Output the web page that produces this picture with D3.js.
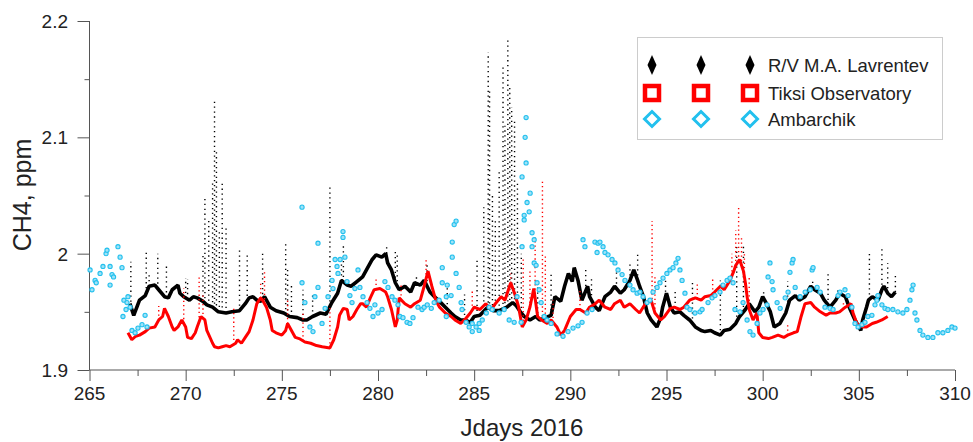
<!DOCTYPE html>
<html><head><meta charset="utf-8">
<script src="https://cdn.jsdelivr.net/npm/d3@7"></script>
<style>body{margin:0;background:#fff}svg text{font-family:"Liberation Sans",Arial,sans-serif;fill:#222}</style>
</head><body><svg id="c" width="973" height="442"></svg>
<script>
const xTicks=[265,270,275,280,285,290,295,300,305,310];
const yTicks=[1.9,2.0,2.1,2.2];
const seriesNames=["R/V M.A. Lavrentev","Tiksi Observatory","Ambarchik"];
// R/V M.A. Lavrentev: running level [day, ppm]
const rvLevel=[[267.1,1.957],[267.3,1.947],[267.6,1.96],[267.9,1.964],[268.1,1.972],[268.4,1.973],[268.6,1.969],[268.9,1.963],[269.1,1.962],[269.3,1.969],[269.6,1.973],[269.7,1.966],[269.9,1.963],[270.2,1.96],[270.4,1.963],[270.6,1.962],[270.9,1.959],[271.1,1.956],[271.4,1.954],[271.7,1.95],[272.1,1.949],[272.4,1.95],[272.8,1.951],[273.1,1.957],[273.3,1.962],[273.5,1.963],[273.7,1.96],[273.9,1.959],[274.1,1.963],[274.4,1.954],[274.7,1.951],[275.1,1.949],[275.4,1.946],[275.8,1.945],[276.1,1.943],[276.3,1.943],[276.6,1.946],[277.0,1.949],[277.3,1.948],[277.6,1.958],[277.9,1.966],[278.1,1.977],[278.4,1.973],[278.6,1.972],[278.9,1.976],[279.2,1.98],[279.4,1.986],[279.7,1.995],[279.9,1.999],[280.2,1.997],[280.4,2.0],[280.5,1.992],[280.7,1.986],[280.9,1.975],[281.1,1.969],[281.4,1.972],[281.7,1.967],[281.9,1.975],[282.2,1.973],[282.4,1.977],[282.7,1.967],[283.0,1.962],[283.2,1.959],[283.5,1.954],[283.8,1.949],[284.0,1.946],[284.3,1.943],[284.5,1.943],[284.8,1.941],[285.0,1.946],[285.3,1.947],[285.7,1.954],[286.0,1.951],[286.3,1.951],[286.7,1.954],[287.0,1.958],[287.2,1.955],[287.4,1.95],[287.6,1.946],[287.9,1.943],[288.2,1.946],[288.4,1.943],[288.7,1.945],[289.0,1.947],[289.2,1.963],[289.5,1.959],[289.7,1.972],[289.9,1.983],[290.1,1.976],[290.2,1.988],[290.4,1.977],[290.6,1.96],[290.9,1.972],[291.0,1.963],[291.3,1.954],[291.5,1.951],[291.8,1.963],[292.1,1.967],[292.3,1.972],[292.6,1.966],[292.8,1.969],[293.1,1.977],[293.3,1.986],[293.5,1.977],[293.6,1.972],[293.8,1.963],[294.0,1.949],[294.2,1.943],[294.5,1.937],[294.7,1.945],[294.8,1.954],[295.0,1.966],[295.2,1.954],[295.4,1.949],[295.7,1.95],[295.9,1.947],[296.2,1.943],[296.5,1.937],[296.8,1.934],[297.0,1.933],[297.3,1.934],[297.5,1.932],[297.8,1.93],[298.0,1.934],[298.3,1.935],[298.6,1.94],[298.8,1.946],[299.1,1.952],[299.3,1.957],[299.6,1.95],[299.8,1.954],[300.0,1.963],[300.2,1.957],[300.4,1.95],[300.6,1.937],[300.9,1.94],[301.2,1.949],[301.4,1.96],[301.7,1.964],[301.9,1.96],[302.2,1.963],[302.5,1.972],[302.7,1.969],[303.0,1.966],[303.2,1.96],[303.5,1.954],[303.8,1.96],[304.0,1.966],[304.3,1.963],[304.5,1.954],[304.8,1.943],[305.1,1.934],[305.2,1.943],[305.4,1.954],[305.5,1.96],[305.7,1.963],[306.0,1.96],[306.2,1.969],[306.3,1.972],[306.5,1.966],[306.7,1.963],[306.9,1.967]];
// R/V peaks [day, max ppm]
const rvPeaks=[[267.15,1.993],[267.95,2.001],[268.1,1.982],[268.55,2.0],[269.0,1.992],[269.55,1.976],[270.0,1.979],[270.1,1.978],[270.9,2.0],[271.0,2.049],[271.2,2.03],[271.4,2.063],[271.5,2.133],[271.6,2.09],[271.75,2.02],[271.9,2.06],[272.1,2.023],[272.8,2.005],[273.2,2.001],[274.0,2.003],[275.2,2.009],[275.3,1.989],[275.5,1.975],[276.1,1.969],[276.6,1.965],[277.5,2.058],[278.1,1.995],[278.2,2.007],[280.45,2.006],[280.9,2.003],[281.0,2.0],[282.0,1.982],[282.55,1.993],[283.6,1.975],[284.5,1.965],[285.15,1.997],[285.5,2.04],[285.73,2.173],[285.8,2.142],[285.95,2.05],[286.1,2.03],[286.3,2.07],[286.5,2.16],[286.6,2.11],[286.75,2.186],[286.85,2.143],[286.95,2.126],[287.1,2.115],[287.25,2.06],[287.45,2.0],[288.3,1.975],[289.0,1.982],[290.25,1.989],[290.8,1.989],[291.1,1.98],[292.4,1.985],[293.1,1.992],[293.5,1.999],[294.95,1.98],[295.45,1.97],[296.35,1.976],[297.8,1.977],[298.65,2.009],[299.0,2.006],[300.05,1.969],[301.3,1.976],[302.6,1.976],[303.4,1.984],[303.9,1.97],[305.55,2.003],[306.2,2.005],[306.5,1.992],[306.9,1.983]];
// Tiksi Observatory level [day, ppm]
const tiksiLevel=[[267.0,1.932],[267.2,1.926],[267.4,1.929],[267.6,1.93],[267.9,1.933],[268.1,1.936],[268.4,1.937],[268.6,1.943],[268.8,1.946],[268.9,1.953],[269.1,1.946],[269.3,1.937],[269.4,1.934],[269.6,1.937],[269.8,1.943],[270.0,1.937],[270.1,1.928],[270.3,1.927],[270.5,1.932],[270.6,1.937],[270.8,1.946],[271.0,1.943],[271.1,1.934],[271.4,1.923],[271.5,1.92],[271.7,1.919],[271.9,1.92],[272.1,1.921],[272.3,1.92],[272.6,1.923],[272.7,1.926],[272.9,1.923],[273.1,1.928],[273.3,1.933],[273.5,1.943],[273.7,1.957],[273.9,1.962],[274.0,1.96],[274.2,1.954],[274.4,1.943],[274.5,1.934],[274.7,1.932],[275.0,1.93],[275.2,1.934],[275.3,1.94],[275.5,1.934],[275.7,1.928],[275.9,1.927],[276.2,1.924],[276.5,1.923],[276.8,1.921],[277.1,1.92],[277.5,1.919],[277.7,1.926],[277.9,1.937],[278.0,1.947],[278.2,1.953],[278.4,1.952],[278.5,1.943],[278.7,1.946],[278.9,1.952],[279.1,1.957],[279.2,1.957],[279.4,1.954],[279.6,1.962],[279.8,1.969],[280.1,1.97],[280.4,1.967],[280.5,1.963],[280.7,1.952],[280.9,1.937],[281.0,1.943],[281.1,1.962],[281.4,1.957],[281.7,1.954],[281.9,1.957],[282.2,1.96],[282.4,1.972],[282.6,1.985],[282.8,1.972],[283.0,1.96],[283.2,1.954],[283.5,1.949],[283.8,1.946],[284.0,1.943],[284.3,1.94],[284.5,1.943],[284.8,1.949],[285.0,1.954],[285.3,1.952],[285.6,1.957],[285.9,1.952],[286.1,1.957],[286.4,1.963],[286.6,1.96],[286.9,1.975],[287.1,1.966],[287.3,1.955],[287.5,1.937],[287.7,1.943],[287.9,1.954],[288.1,1.97],[288.3,1.946],[288.5,1.943],[288.8,1.94],[289.0,1.943],[289.3,1.937],[289.5,1.93],[289.7,1.934],[290.0,1.946],[290.3,1.952],[290.5,1.952],[290.8,1.949],[291.0,1.954],[291.3,1.957],[291.5,1.96],[291.8,1.954],[292.1,1.952],[292.3,1.957],[292.6,1.96],[292.8,1.954],[293.1,1.957],[293.4,1.952],[293.6,1.949],[293.9,1.957],[294.2,1.96],[294.4,1.949],[294.7,1.943],[294.9,1.946],[295.2,1.953],[295.4,1.954],[295.7,1.952],[295.9,1.954],[296.2,1.96],[296.5,1.962],[296.8,1.96],[297.0,1.963],[297.3,1.964],[297.5,1.967],[297.8,1.972],[298.0,1.969],[298.3,1.977],[298.5,1.985],[298.6,1.99],[298.8,1.995],[298.9,1.99],[299.0,1.985],[299.1,1.975],[299.2,1.962],[299.3,1.952],[299.5,1.943],[299.7,1.949],[299.8,1.932],[300.0,1.928],[300.3,1.927],[300.5,1.928],[300.8,1.93],[301.1,1.928],[301.3,1.93],[301.6,1.932],[301.8,1.933],[302.0,1.946],[302.2,1.957],[302.5,1.958],[302.7,1.954],[303.0,1.95],[303.3,1.947],[303.5,1.949],[303.8,1.949],[304.0,1.95],[304.3,1.954],[304.6,1.957],[304.7,1.949],[304.9,1.94],[305.2,1.937],[305.4,1.937],[305.7,1.94],[305.9,1.941],[306.2,1.943],[306.5,1.946]];
// Tiksi peaks [day, max ppm]
const tiksiPeaks=[[268.6,1.955],[269.9,1.97],[270.7,1.98],[270.9,1.965],[272.5,1.955],[273.9,1.975],[274.1,1.986],[275.3,1.962],[276.1,1.95],[277.5,1.955],[279.9,1.98],[281.2,1.975],[282.5,1.995],[284.9,1.97],[286.9,1.983],[287.55,1.995],[287.9,1.985],[288.17,2.014],[288.55,2.063],[288.7,2.0],[289.1,1.96],[290.5,1.97],[294.25,2.028],[294.4,1.98],[296.6,1.975],[297.4,1.98],[298.4,2.0],[298.6,2.02],[298.75,2.04],[298.9,2.015],[299.05,2.0],[299.3,1.98],[301.3,1.94],[304.2,1.96]];
// Ambarchik samples [day, ppm]
const ambarchik=[[265.03,1.986],[265.13,1.969],[265.29,1.977],[265.35,1.975],[265.55,1.983],[265.7,1.989],[265.86,2.0],[265.91,2.003],[266.07,1.989],[266.07,1.973],[266.17,1.982],[266.25,1.98],[266.48,2.006],[266.59,1.997],[266.69,1.988],[266.74,1.946],[266.79,1.96],[266.9,1.952],[266.95,1.958],[267.0,1.963],[267.11,1.954],[267.21,1.934],[267.37,1.932],[267.52,1.936],[267.73,1.939],[267.89,1.947],[267.99,1.937],
[276.05,2.04],[276.05,1.975],[276.2,1.958],[276.46,1.937],[276.62,1.933],[276.72,1.963],[276.88,2.009],[276.88,1.971],[277.09,1.94],[277.25,1.953],[277.4,1.963],[277.61,1.977],[277.66,1.97],[277.77,1.995],[277.87,1.989],[277.92,1.983],[278.03,1.995],[278.18,2.019],[278.18,2.014],[278.28,1.997],[278.39,1.976],[278.54,1.964],[278.65,1.958],[278.8,1.97],[278.96,1.986],[279.06,1.971],[279.22,1.963],[279.43,1.958],[279.58,1.953],[279.74,1.946],[279.84,1.956],[280.0,1.949],[280.21,1.952],[280.36,1.976],[280.52,1.971],[280.73,1.963],[280.88,1.96],[281.04,1.956],[281.14,1.946],[281.3,1.945],[281.51,1.941],[281.66,1.94],[281.82,1.945],[282.08,1.954],[282.29,1.952],[282.4,1.954],[282.56,1.956],[282.77,1.953],[282.92,1.958],[283.18,1.96],[283.34,1.975],[283.34,1.988],[283.55,1.963],[283.55,1.946],[283.6,1.973],[283.8,1.964],[283.86,2.01],[283.86,1.997],[283.96,2.025],[284.06,2.028],[284.06,1.983],[284.22,1.971],[284.32,1.958],[284.37,1.952],[284.58,1.941],[284.74,1.937],[284.9,1.94],[284.9,1.933],[285.1,1.937],[285.26,1.94],[285.26,1.934],[285.42,1.943],[285.63,1.949],[285.78,1.954],[285.94,1.952],[286.3,1.949],[286.56,1.952],[286.82,1.943],[287.08,1.941],
[287.23,1.963],[287.44,1.941],[287.49,2.006],[287.6,2.029],[287.65,2.1],[287.7,2.117],[287.7,2.078],[287.49,2.066],[287.91,2.052],[287.75,2.044],[287.86,2.036],[287.6,2.033],[288.01,2.018],[288.12,2.012],[288.01,2.006],[288.12,1.992],[288.22,1.99],[288.27,1.975],[288.38,1.969],[288.48,1.958],[288.64,1.946],[288.79,1.943],[289.0,1.94],[289.31,1.931],[289.62,1.929],[289.88,1.933],[290.14,1.936],[290.4,1.938],[290.61,1.941],[290.66,2.012],[290.76,2.006],[290.87,1.949],[291.13,1.952],[291.28,2.01],[291.39,2.001],[291.44,2.009],[291.54,2.01],[291.7,2.006],[291.8,2.001],[291.96,1.999],[292.17,1.995],[292.32,1.992],[292.48,1.986],[292.69,1.982],[292.84,1.977],[293.1,1.973],[293.26,1.969],[293.47,1.966],[293.62,1.967],[293.78,1.963],[293.99,1.958],[294.14,1.96],[294.3,1.967],[294.51,1.971],[294.66,1.975],[294.82,1.979],[295.02,1.983],[295.18,1.986],[295.34,1.988],[295.49,1.992],[295.6,1.996],[295.7,1.986],[295.81,1.977],[295.96,1.966],[296.07,1.954],[296.22,1.952],[296.48,1.949],[296.74,1.95],[296.85,1.952],[297.16,1.958],[297.37,1.962],[297.52,1.964],[297.78,1.967],[297.94,1.973],[298.15,1.977],[298.3,1.979],[298.46,1.975],
[298.56,1.952],[298.82,1.95],[298.98,1.958],[299.19,1.943],[299.34,1.933],[299.5,1.93],[299.71,1.94],[299.86,1.949],[300.02,1.952],[300.23,1.956],[300.28,1.98],[300.38,1.992],[300.49,1.976],[300.54,1.969],[300.75,1.958],[300.91,1.953],[301.17,1.962],[301.32,1.967],[301.42,1.984],[301.53,1.992],[301.58,1.995],[301.69,1.971],[301.95,1.963],[302.21,1.967],[302.47,1.969],[302.57,1.986],[302.62,1.988],[302.83,1.971],[302.99,1.967],[303.24,1.954],[303.5,1.953],[303.66,1.952],[303.92,1.964],[304.02,1.967],[304.28,1.969],[304.44,1.964],[304.64,1.954],[304.8,1.94],[304.96,1.937],[305.16,1.939],[305.32,1.941],[305.47,1.946],[305.68,1.947],[305.84,1.956],[305.94,1.96],[305.99,1.964],[306.2,1.956],[306.36,1.953],[306.51,1.952],[306.77,1.952],[307.03,1.95],[307.29,1.949],[307.5,1.952],[307.66,1.96],[307.76,1.969],[307.82,1.973],[307.92,1.949],[308.02,1.943],[308.18,1.934],[308.33,1.93],[308.59,1.928],[308.85,1.928],[309.11,1.932],[309.37,1.932],[309.63,1.934],[309.84,1.937],[310.0,1.936]];

const svg=d3.select("#c");
const x=d3.scaleLinear().domain([265,310]).range([89.5,955]);
const y=d3.scaleLinear().domain([1.9,2.2]).range([370,21]);
const axisCol="#555";

// axes
const gx=svg.append("g").attr("transform","translate(0,370)")
  .call(d3.axisBottom(x).tickValues(d3.range(265,310.1,2.5)).tickSize(6).tickFormat(""));
gx.selectAll("line").attr("stroke",axisCol);
gx.selectAll(".tick").filter(d=>xTicks.includes(d)).select("line").attr("y2",11);
gx.select(".domain").attr("stroke",axisCol).attr("d","M89.5,0H955");
svg.append("g").selectAll("text").data(xTicks).join("text")
  .attr("x",d=>x(d)).attr("y",400).attr("text-anchor","middle").attr("font-size",19).text(d=>d);

const gy=svg.append("g").attr("transform","translate(89.5,0)")
  .call(d3.axisLeft(y).tickValues(d3.range(0,7).map(i=>1.9+i*0.05)).tickSize(5).tickFormat(""));
gy.selectAll("line").attr("stroke",axisCol);
gy.selectAll(".tick").filter((d,i)=>i%2===0).select("line").attr("x2",-12);
gy.select(".domain").attr("stroke",axisCol).attr("d","M0,21V370");
svg.append("g").selectAll("text").data(yTicks).join("text")
  .attr("x",68).attr("y",d=>y(d)+7).attr("text-anchor","end").attr("font-size",19).text(d=>d3.format(".1f")(d).replace(/\.0$/,""));

svg.append("text").attr("transform","translate(31,195) rotate(-90)").attr("text-anchor","middle").attr("font-size",25).text("CH4, ppm");
svg.append("text").attr("x",522).attr("y",436).attr("text-anchor","middle").attr("font-size",24).text("Jdays 2016");

// helpers
function levelAt(arr,d){const b=d3.bisector(p=>p[0]).left(arr,d);const i=Math.max(1,Math.min(arr.length-1,b));const a=arr[i-1],c=arr[i];const t=(d-a[0])/(c[0]-a[0]);return a[1]+(c[1]-a[1])*Math.max(0,Math.min(1,t));}
const line=d3.line().x(d=>x(d[0])).y(d=>y(d[1])).curve(d3.curveLinear);

const plot=svg.append("g");
plot.append("path").datum(rvLevel).attr("d",line).attr("fill","none").attr("stroke","#000").attr("stroke-width",3.6).attr("stroke-linejoin","bevel");
plot.append("g").selectAll("line").data(rvPeaks).join("line")
  .attr("x1",d=>x(d[0])).attr("x2",d=>x(d[0])).attr("y1",d=>y(levelAt(rvLevel,d[0]))).attr("y2",d=>y(d[1]))
  .attr("stroke","#000").attr("stroke-width",1.4).attr("stroke-dasharray","1.3,3.6");
plot.append("path").datum(tiksiLevel).attr("d",line).attr("fill","none").attr("stroke","#f00").attr("stroke-width",3).attr("stroke-linejoin","bevel");
plot.append("g").selectAll("line").data(tiksiPeaks).join("line")
  .attr("x1",d=>x(d[0])).attr("x2",d=>x(d[0])).attr("y1",d=>y(levelAt(tiksiLevel,d[0]))).attr("y2",d=>y(d[1]))
  .attr("stroke","#f00").attr("stroke-width",1.4).attr("stroke-dasharray","1.3,3");
plot.append("g").selectAll("circle").data(ambarchik).join("circle")
  .attr("cx",d=>x(d[0])).attr("cy",d=>y(d[1])).attr("r",2.1)
  .attr("fill","#9fe2f7").attr("stroke","#22c0ee").attr("stroke-width",1.1);

// legend
const lg=svg.append("g");
lg.append("rect").attr("x",637.5).attr("y",37.5).attr("width",305).attr("height",102).attr("fill","#fff").attr("stroke","#ccc");
const rows=[65,93,119], cols=[652,701,750];
seriesNames.forEach((name,i)=>{
  cols.forEach(cx=>{
    const cy=rows[i];
    if(i===0) lg.append("path").attr("d",`M${cx},${cy-10}L${cx+4.5},${cy}L${cx},${cy+10}L${cx-4.5},${cy}Z`).attr("fill","#000");
    else if(i===1) lg.append("rect").attr("x",cx-7).attr("y",cy-7).attr("width",14).attr("height",14).attr("fill","none").attr("stroke","#f00").attr("stroke-width",4.5);
    else lg.append("path").attr("d",`M${cx},${cy-7.5}L${cx+7.5},${cy}L${cx},${cy+7.5}L${cx-7.5},${cy}Z`).attr("fill","none").attr("stroke","#22c0ee").attr("stroke-width",3);
  });
  lg.append("text").attr("x",768).attr("y",rows[i]+7).attr("font-size",18.5).text(name);
});
</script></body></html>
